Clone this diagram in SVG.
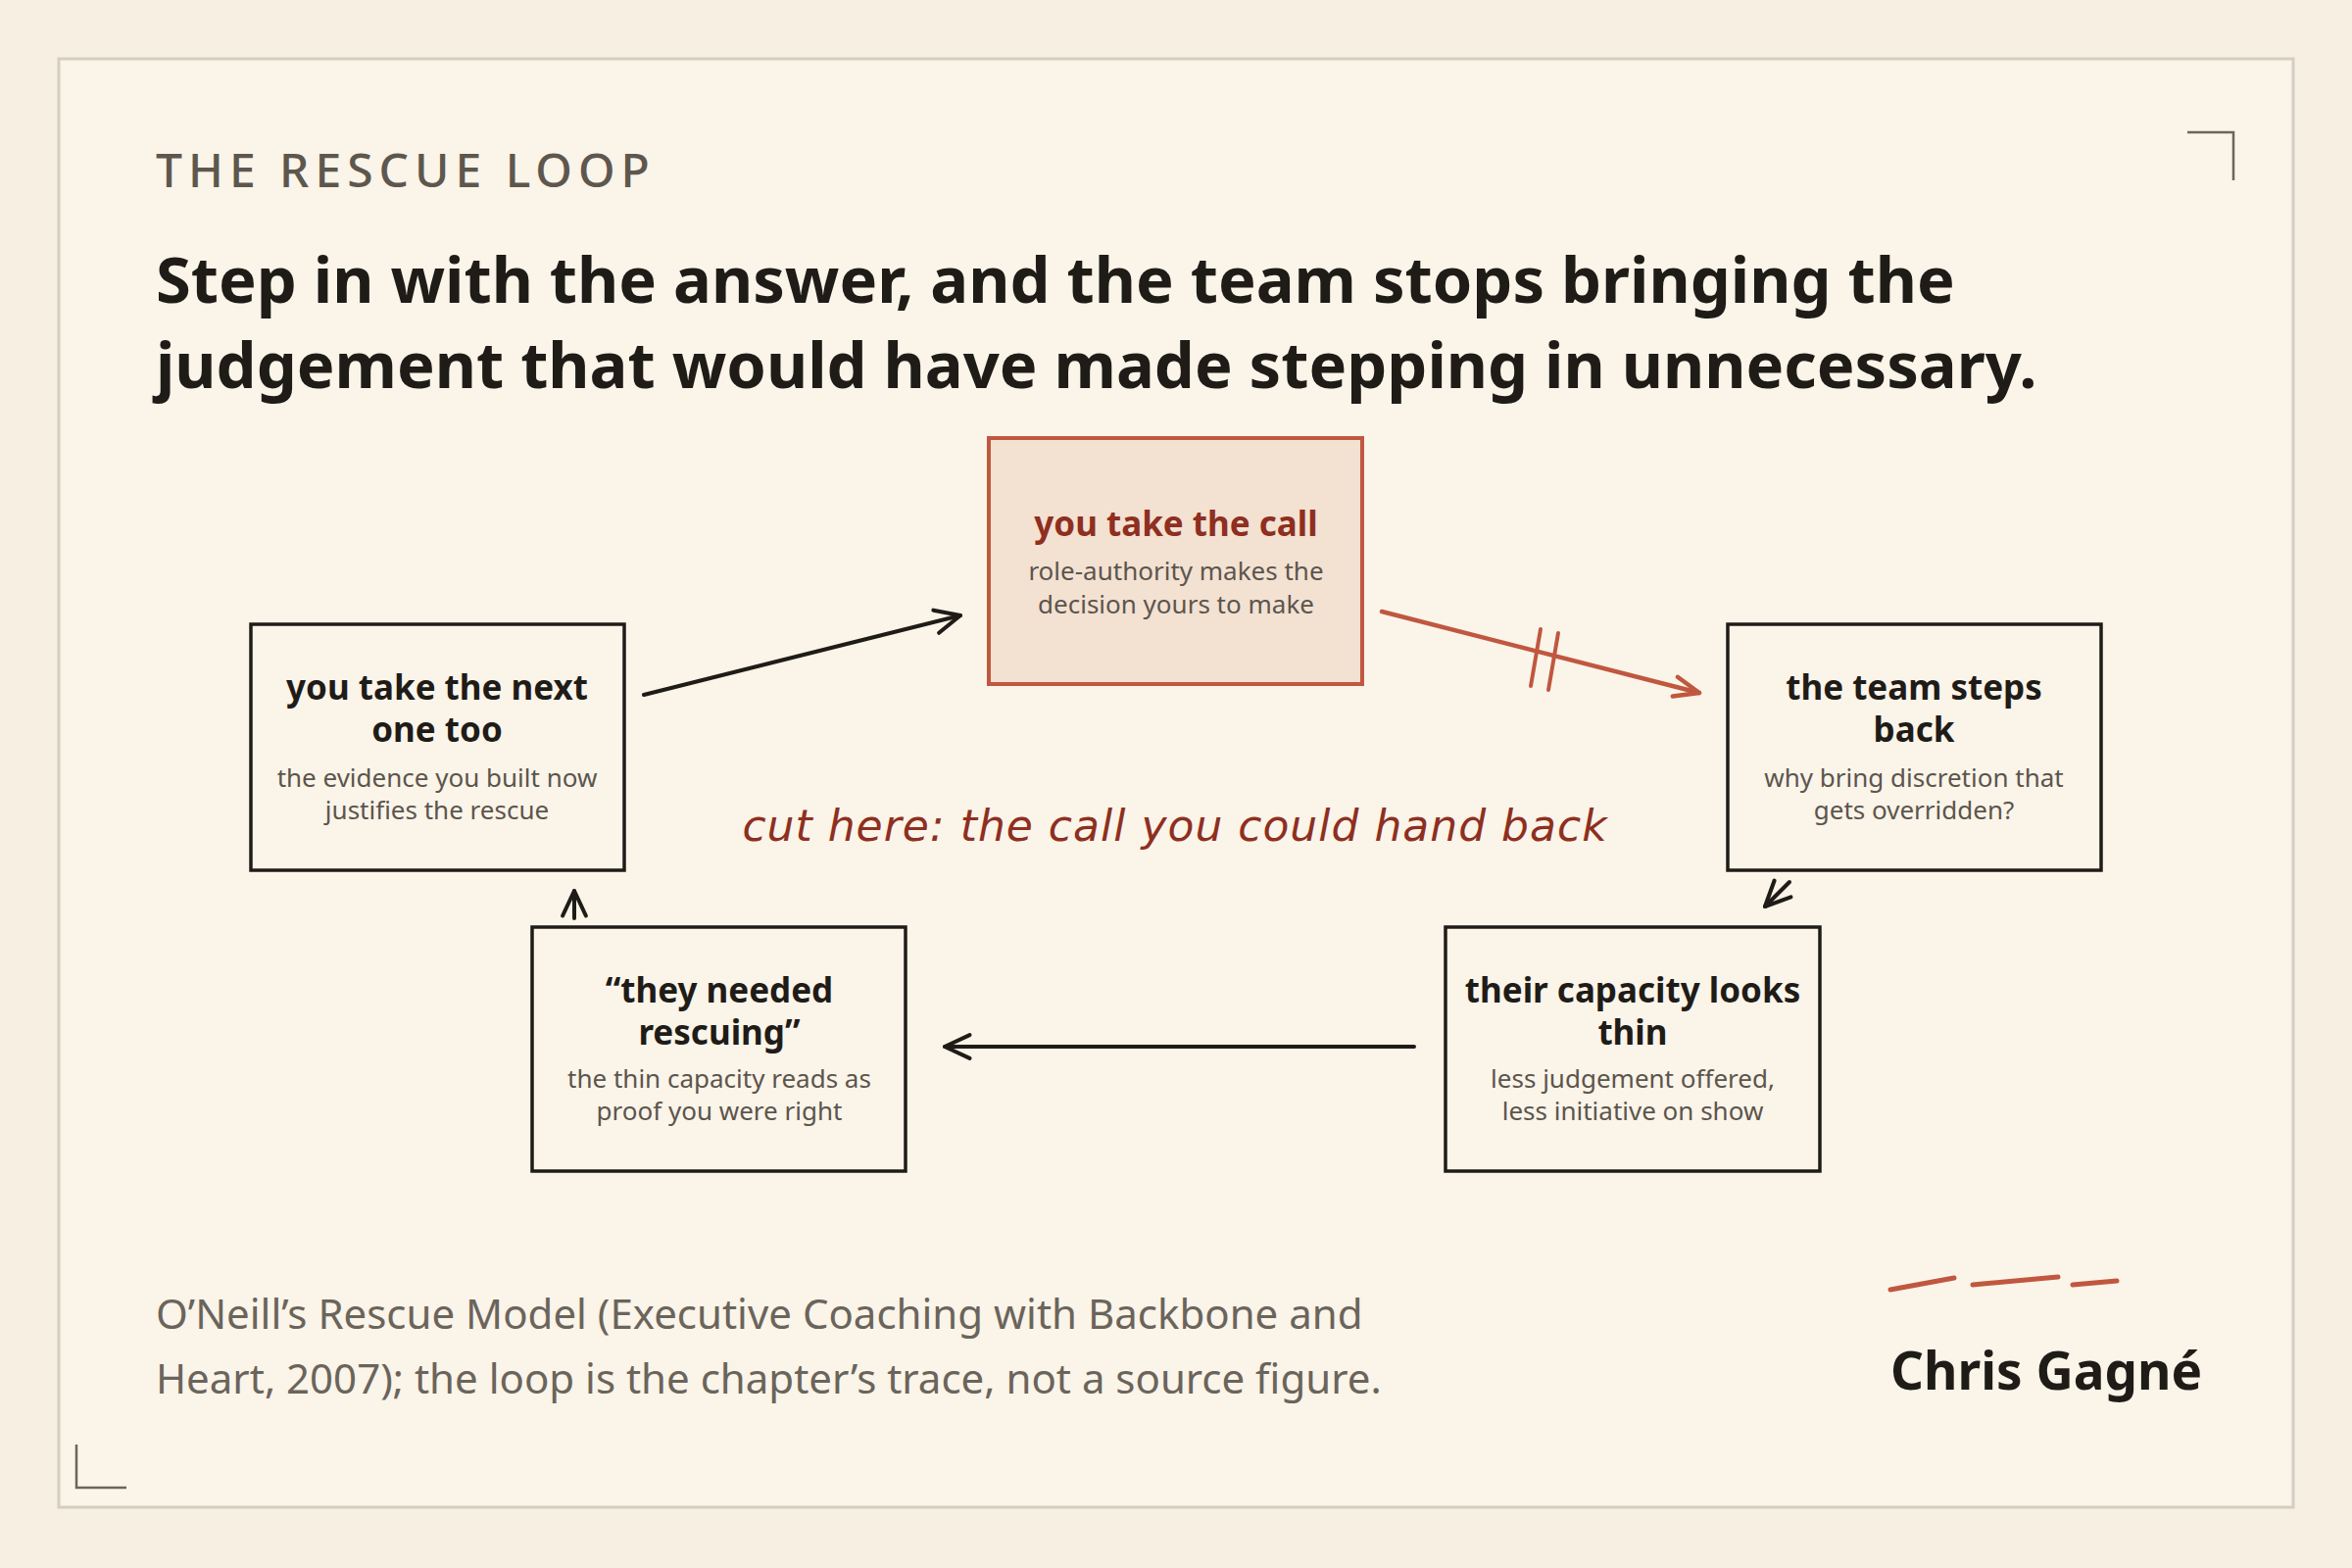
<svg xmlns="http://www.w3.org/2000/svg" width="2400" height="1600" viewBox="0 0 2400 1600">
<defs>
<style>
.nb{fill:none;stroke:#1f1c18;stroke-width:3.5}
.t{font-family:"Noto Sans","Open Sans",sans-serif;font-weight:700;font-size:35px;fill:#1f1c18;text-anchor:middle}
.s{font-family:"Noto Sans","Open Sans",sans-serif;font-size:26px;fill:#5c554d;text-anchor:middle}
.c{fill:none;stroke:#1f1c18;stroke-width:4;stroke-linecap:round}
</style>
<marker id="ah" viewBox="0 0 20 20" refX="18" refY="10" markerWidth="34" markerHeight="34" markerUnits="userSpaceOnUse" orient="auto"><path d="M3,3 L18,10 L3,17" fill="none" stroke="#1f1c18" stroke-width="2.4" stroke-linecap="round" stroke-linejoin="round"/></marker>
<marker id="ahr" viewBox="0 0 20 20" refX="18" refY="10" markerWidth="34" markerHeight="34" markerUnits="userSpaceOnUse" orient="auto"><path d="M3,4 L18,10 L3,16" fill="none" stroke="#c0573f" stroke-width="2.6" stroke-linecap="round" stroke-linejoin="round"/></marker>
</defs>
<rect width="2400" height="1600" fill="#f6efe2"/>
<rect x="60" y="60" width="2280" height="1478" fill="#faf4e9" stroke="#d4cdc2" stroke-width="3"/>
<path d="M2232,135 L2279,135 L2279,184" fill="none" stroke="#6b655d" stroke-width="2.5"/>
<path d="M78,1474 L78,1518 L129,1518" fill="none" stroke="#6b655d" stroke-width="2.5"/>
<text x="159" y="191" font-family="Noto Sans,sans-serif" font-size="48" font-weight="500" letter-spacing="6" fill="#5e574e">THE RESCUE LOOP</text>
<text font-family="Noto Sans,sans-serif" font-size="65" font-weight="700" fill="#1f1c18"><tspan x="159" y="309">Step in with the answer, and the team stops bringing the</tspan><tspan x="159" y="396">judgement that would have made stepping in unnecessary.</tspan></text>
<g id="connectors">
<path class="c" d="M657,709 L980,628" marker-end="url(#ah)"/>
<path d="M1410,624 L1734,707" fill="none" stroke="#c0573f" stroke-width="4.5" stroke-linecap="round" marker-end="url(#ahr)"/>
<path d="M1572,642 L1562,700 M1590,646 L1580,704" stroke="#c0573f" stroke-width="4" stroke-linecap="round"/>
<path class="c" d="M1826,900 L1801,925" marker-end="url(#ah)"/>
<path class="c" d="M1443,1068 L964,1068" marker-end="url(#ah)"/>
<path class="c" d="M586,937 L586,909" marker-end="url(#ah)"/>
</g>
<text x="1199" y="858" font-family="DejaVu Sans,sans-serif" font-style="italic" font-size="44" fill="#8e2f1f" text-anchor="middle" letter-spacing="1">cut here: the call you could hand back</text>
<g id="n-top"><rect x="1009" y="447" width="381" height="251" fill="#f3e1d2" stroke="#c0573f" stroke-width="4"/><text class="t" x="1200" y="547" style="fill:#8e2f1f">you take the call</text><text class="s" x="1200" y="592">role-authority makes the</text><text class="s" x="1200" y="626">decision yours to make</text></g>
<g id="n-left"><rect class="nb" x="256" y="637" width="381" height="251"/><text class="t" x="446" y="714">you take the next</text><text class="t" x="446" y="757">one too</text><text class="s" x="446" y="803">the evidence you built now</text><text class="s" x="446" y="836">justifies the rescue</text></g>
<g id="n-right"><rect class="nb" x="1763" y="637" width="381" height="251"/><text class="t" x="1953" y="714">the team steps</text><text class="t" x="1953" y="757">back</text><text class="s" x="1953" y="803">why bring discretion that</text><text class="s" x="1953" y="836">gets overridden?</text></g>
<g id="n-bl"><rect class="nb" x="543" y="946" width="381" height="249"/><text class="t" x="734" y="1023">“they needed</text><text class="t" x="734" y="1066">rescuing”</text><text class="s" x="734" y="1110">the thin capacity reads as</text><text class="s" x="734" y="1143">proof you were right</text></g>
<g id="n-br"><rect class="nb" x="1475" y="946" width="382" height="249"/><text class="t" x="1666" y="1023">their capacity looks</text><text class="t" x="1666" y="1066">thin</text><text class="s" x="1666" y="1110">less judgement offered,</text><text class="s" x="1666" y="1143">less initiative on show</text></g>
<text font-family="Noto Sans,sans-serif" font-size="42" fill="#6b645b"><tspan x="159" y="1356">O’Neill’s Rescue Model (Executive Coaching with Backbone and</tspan><tspan x="159" y="1422">Heart, 2007); the loop is the chapter’s trace, not a source figure.</tspan></text>
<path d="M1929,1316 L1994,1304 M2013,1311 L2100,1303 M2115,1311 L2160,1307" stroke="#c0573f" stroke-width="5" stroke-linecap="round"/>
<text x="1929" y="1418" font-family="Noto Sans,sans-serif" font-size="53" font-weight="700" fill="#1f1c18">Chris Gagné</text>
</svg>
